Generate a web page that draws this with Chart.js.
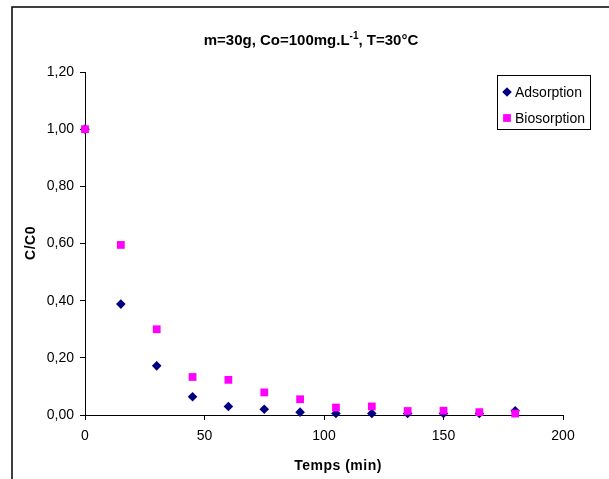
<!DOCTYPE html>
<html>
<head>
<meta charset="utf-8">
<script src="https://cdn.jsdelivr.net/npm/chart.js@4.4.0/dist/chart.umd.min.js"></script>
<style>
    html, body { margin: 0; padding: 0; background: #fff; }
    #wrap { position: relative; width: 609px; height: 479px; }
</style>
</head>
<body>
<div id="wrap"><canvas id="kinetics" width="609" height="479"></canvas></div>
<script>
// Contact time (min) and normalised concentration C/C0
const times = [0, 15, 30, 45, 60, 75, 90, 105, 120, 135, 150, 165, 180];
const adsorption = [1.00, 0.388, 0.172, 0.064, 0.030, 0.020, 0.010, 0.005, 0.005, 0.005, 0.005, 0.005, 0.015];
const biosorption = [1.00, 0.595, 0.300, 0.133, 0.123, 0.079, 0.055, 0.026, 0.030, 0.014, 0.015, 0.010, 0.005];

const xTicks = [0, 50, 100, 150, 200];
const yTicks = [0, 0.2, 0.4, 0.6, 0.8, 1.0, 1.2];
const yTickLabels = ['0,00', '0,20', '0,40', '0,60', '0,80', '1,00', '1,20'];

const seriesNames = ['Adsorption', 'Biosorption'];
const seriesColors = ['#000080', '#FF00FF'];

const FONT = '"Liberation Sans", Arial, sans-serif';

function toPoints(values) {
    return times.map((t, i) => ({ x: t, y: values[i] }));
}

// Frame, title, axis titles and the boxed legend
const decorations = {
    id: 'decorations',
    afterDraw(chart) {
        const ctx = chart.ctx;
        ctx.save();

        // outer frame (only top and left edges fall inside the canvas)
        ctx.strokeStyle = '#000';
        ctx.lineWidth = 1.5;
        ctx.beginPath();
        ctx.moveTo(12, 479);
        ctx.lineTo(12, 7);
        ctx.lineTo(609, 7);
        ctx.stroke();

        // title with superscript exponent
        ctx.fillStyle = '#000';
        ctx.textBaseline = 'alphabetic';
        const part1 = 'm=30g, Co=100mg.L';
        const sup = '-1';
        const part2 = ', T=30°C';
        ctx.font = 'bold 15px ' + FONT;
        const w1 = ctx.measureText(part1).width;
        const w3 = ctx.measureText(part2).width;
        ctx.font = 'bold 10px ' + FONT;
        const w2 = ctx.measureText(sup).width;
        let x = 311 - (w1 + w2 + w3) / 2;
        const base = 45;
        ctx.font = 'bold 15px ' + FONT;
        ctx.fillText(part1, x, base);
        x += w1;
        ctx.font = 'bold 10px ' + FONT;
        ctx.fillText(sup, x, base - 6);
        x += w2;
        ctx.font = 'bold 15px ' + FONT;
        ctx.fillText(part2, x, base);

        // axis titles
        ctx.font = 'bold 14px ' + FONT;
        ctx.letterSpacing = '0.5px';
        ctx.textAlign = 'center';
        ctx.textBaseline = 'middle';
        ctx.fillText('Temps (min)', 338, 466);
        ctx.save();
        ctx.translate(31, 243);
        ctx.rotate(-Math.PI / 2);
        ctx.fillText('C/C0', 0, 0);
        ctx.restore();
        ctx.letterSpacing = '0px';

        // legend box
        ctx.fillStyle = '#fff';
        ctx.fillRect(497, 75, 93, 54);
        ctx.lineWidth = 1;
        ctx.strokeStyle = '#000';
        ctx.strokeRect(497.5, 75.5, 93, 54);

        const rows = [92, 118];
        const styles = ['rectRot', 'rect'];
        const radii = [4.8, 5.5];
        ctx.textAlign = 'left';
        ctx.font = '14px ' + FONT;
        rows.forEach((y, i) => {
            ctx.fillStyle = seriesColors[i];
            ctx.strokeStyle = seriesColors[i];
            Chart.helpers.drawPoint(ctx, { pointStyle: styles[i], radius: radii[i], borderWidth: 0 }, 507, y);
            ctx.fillStyle = '#000';
            ctx.fillText(seriesNames[i], 515, y + 1);
        });

        ctx.restore();
    }
};

const ctx = document.getElementById('kinetics').getContext('2d');
new Chart(ctx, {
    type: 'scatter',
    data: {
        datasets: [
            {
                label: seriesNames[0],
                data: toPoints(adsorption),
                pointStyle: 'rectRot',
                pointRadius: 4.8,
                pointBorderWidth: 0,
                backgroundColor: seriesColors[0],
                borderColor: seriesColors[0],
                clip: false,
                order: 2
            },
            {
                label: seriesNames[1],
                data: toPoints(biosorption),
                pointStyle: 'rect',
                pointRadius: 5.5,
                pointBorderWidth: 0,
                backgroundColor: seriesColors[1],
                borderColor: seriesColors[1],
                clip: false,
                order: 1
            }
        ]
    },
    options: {
        responsive: false,
        animation: false,
        events: [],
        layout: { padding: { top: 72, right: 46, left: 0, bottom: 0 } },
        plugins: {
            legend: { display: false },
            title: { display: false },
            tooltip: { enabled: false }
        },
        scales: {
            x: {
                type: 'linear',
                min: 0,
                max: 200,
                afterFit(scale) { scale.height = 64; },
                afterBuildTicks(scale) { scale.ticks = xTicks.map(v => ({ value: v })); },
                grid: { drawOnChartArea: false, drawTicks: true, tickLength: 5, color: '#000' },
                border: { display: true, color: '#000', width: 1 },
                ticks: {
                    color: '#000',
                    padding: 8,
                    maxRotation: 0,
                    font: { family: FONT, size: 14 }
                }
            },
            y: {
                type: 'linear',
                min: 0,
                max: 1.2,
                afterFit(scale) { scale.width = 85; },
                afterBuildTicks(scale) { scale.ticks = yTicks.map(v => ({ value: v })); },
                grid: { drawOnChartArea: false, drawTicks: true, tickLength: 5, color: '#000' },
                border: { display: true, color: '#000', width: 1 },
                ticks: {
                    color: '#000',
                    padding: 6,
                    font: { family: FONT, size: 14 },
                    callback: (value, index) => yTickLabels[index]
                }
            }
        }
    },
    plugins: [decorations]
});
</script>
</body>
</html>
